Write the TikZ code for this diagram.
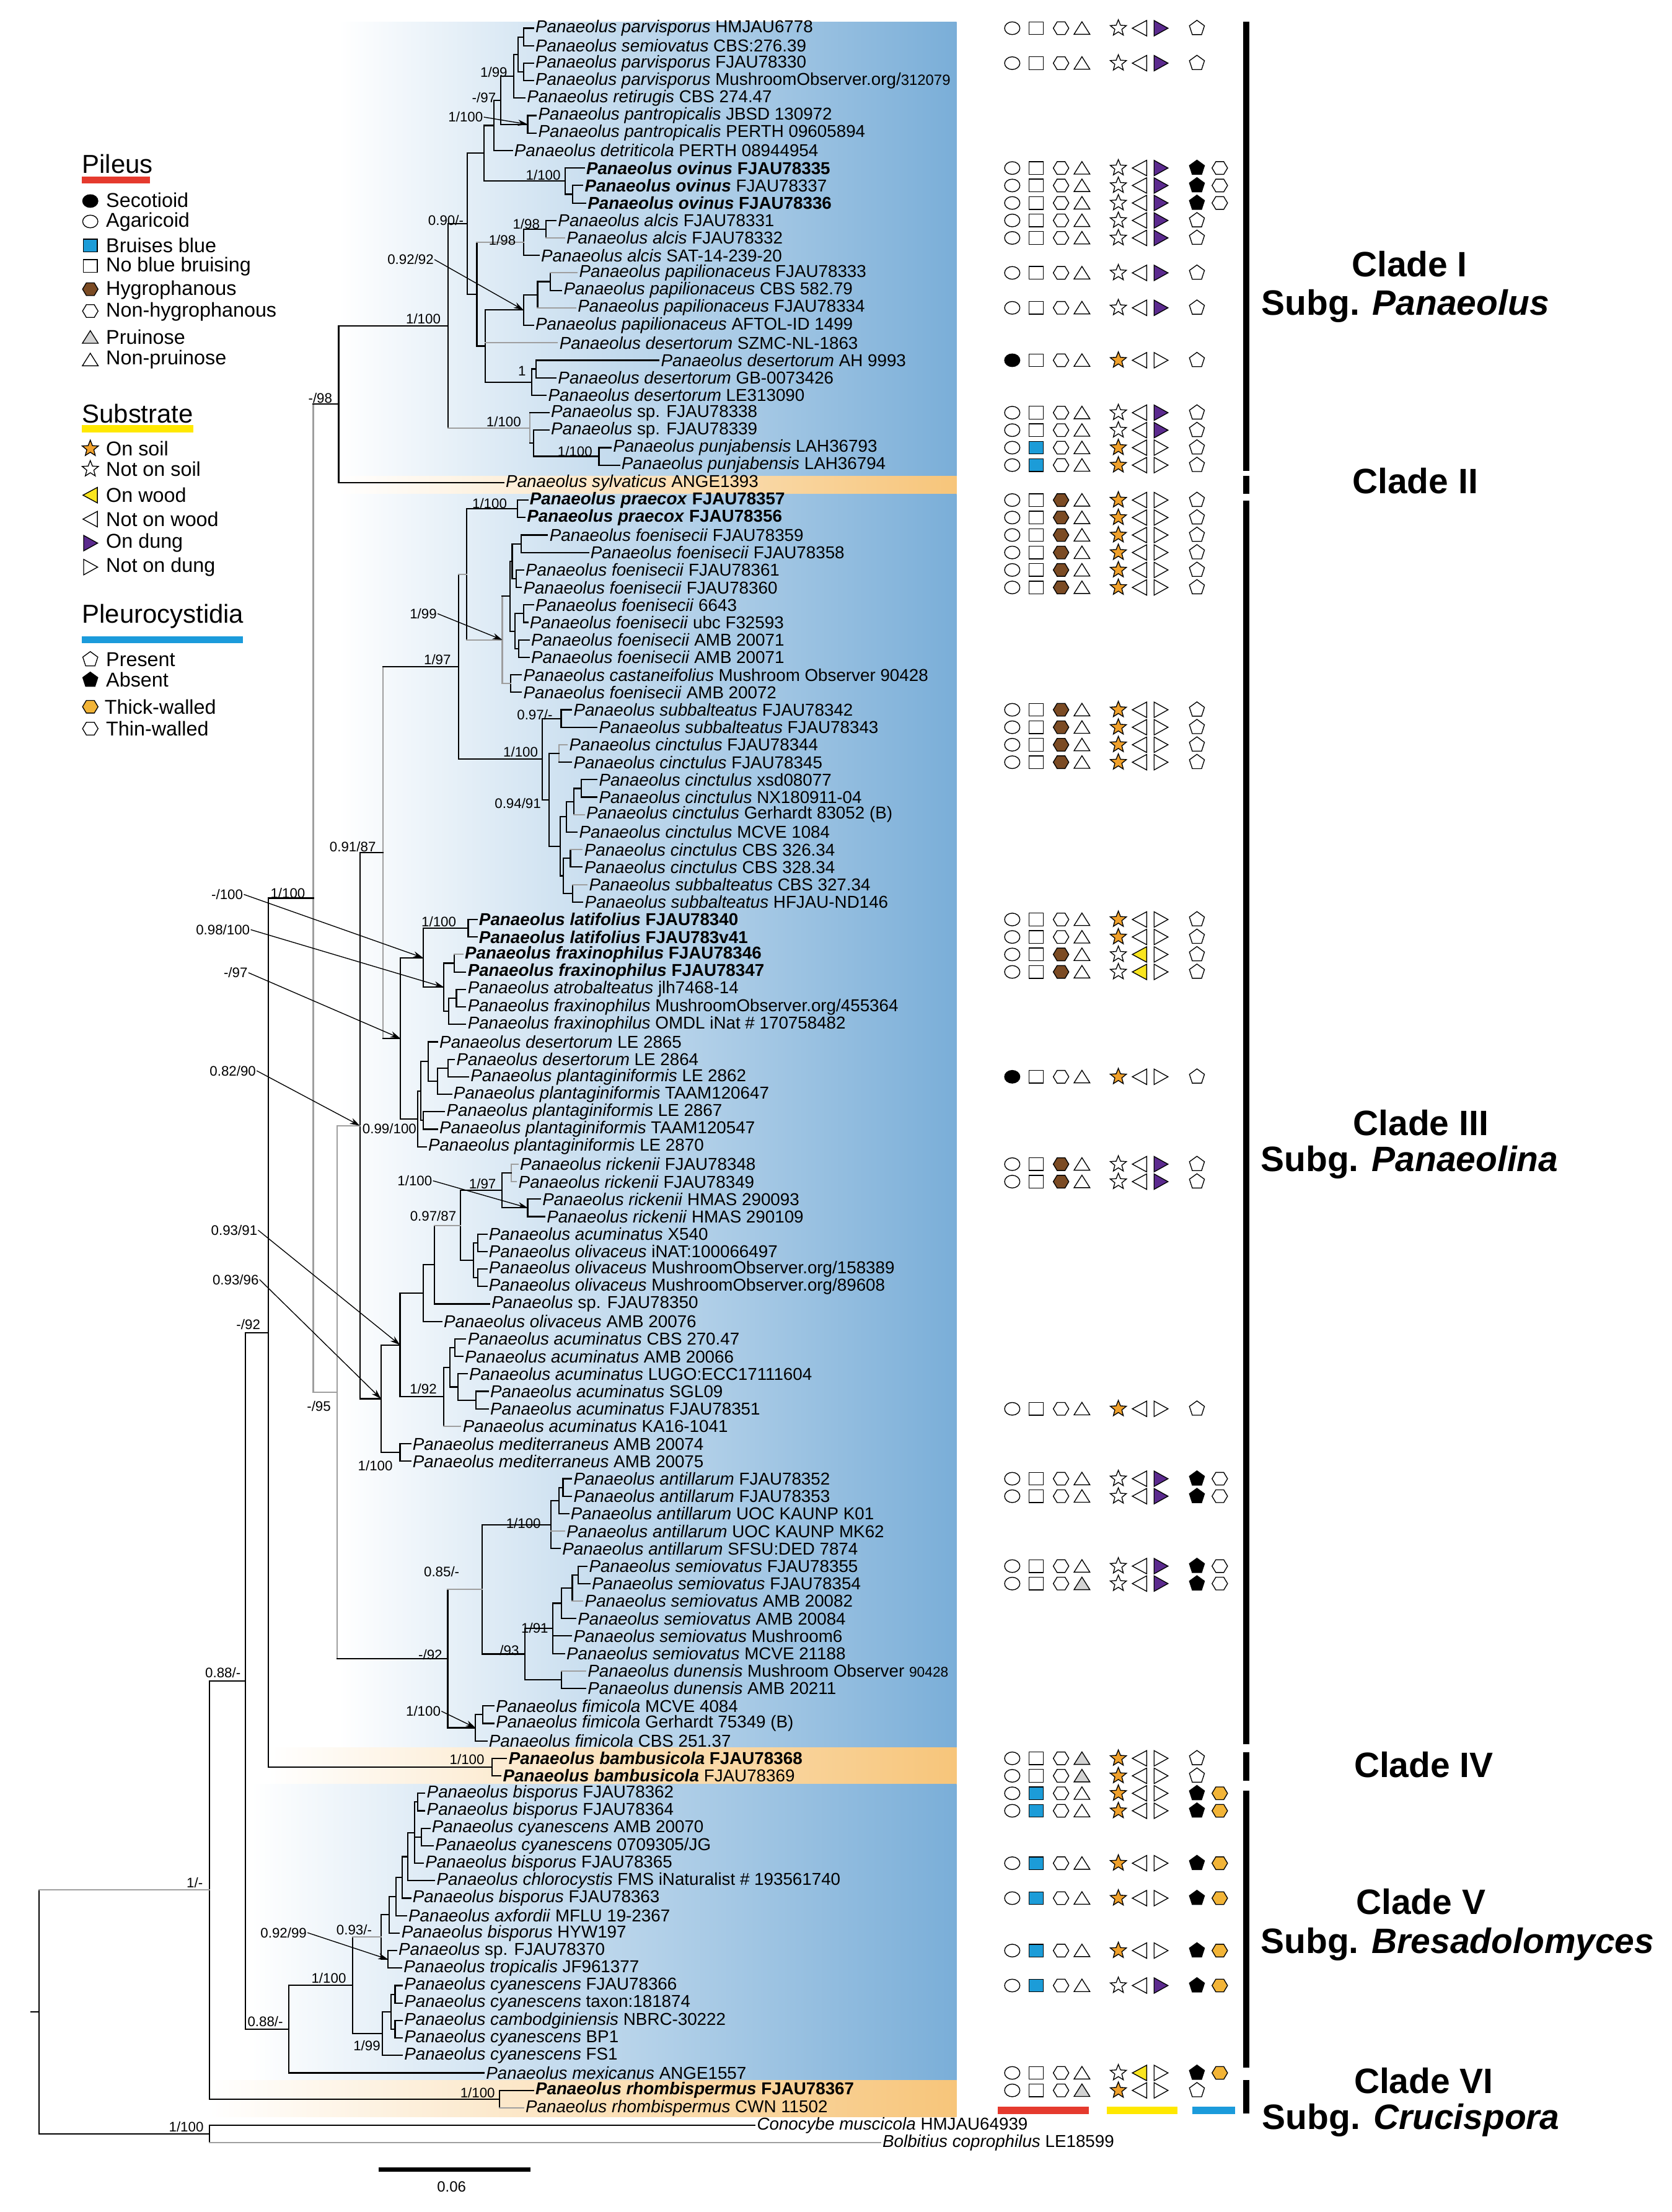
\documentclass[tikz,border=0pt]{standalone}
\usepackage{fontspec}
\setmainfont{Liberation Sans}
\usetikzlibrary{arrows.meta}
\definecolor{shblue}{RGB}{122,174,216}
\definecolor{shorange}{RGB}{247,197,122}
\definecolor{bruise}{RGB}{28,156,216}
\definecolor{hbrown}{RGB}{123,75,36}
\definecolor{pgray}{RGB}{211,211,211}
\definecolor{sorange}{RGB}{240,161,44}
\definecolor{wyellow}{RGB}{249,229,30}
\definecolor{dpurple}{RGB}{91,42,142}
\definecolor{thorange}{RGB}{242,180,55}
\definecolor{redbar}{RGB}{229,58,46}
\definecolor{yelbar}{RGB}{255,232,0}
\definecolor{bluebar}{RGB}{27,155,219}
\tikzset{
 br/.style={line width=0.95pt, line cap=rect},
 kk/.style={},
 gg/.style={draw=black!38},
 tl/.style={anchor=west, inner sep=1.3pt, font=\fontsize{12.2}{12}\selectfont},
 sl/.style={inner sep=0.4pt, font=\fontsize{9.8}{10}\selectfont},
 arr/.style={line width=0.6pt, -{Stealth[length=7pt,width=4.4pt]}},
 smb/.style={line width=0.6pt, draw=black},
 clade/.style={font=\fontsize{25}{26}\selectfont\bfseries, inner sep=0},
 lh/.style={anchor=west, font=\fontsize{18.4}{18}\selectfont, inner sep=0},
 li/.style={anchor=west, font=\fontsize{14.2}{14}\selectfont, inner sep=0},
}
\newcommand{\Pn}[1]{\textit{Panaeolus #1}}
\newcommand{\Pb}[1]{\textbf{\textit{Panaeolus #1}}}
\newcommand{\Tp}[4]{%
  \pgfmathsetmacro\tyy{20+12.388*(#2-1)}%
  \expandafter\xdef\csname ny@#1\endcsname{\tyy}%
  \node[tl] (#1) at (#3,\tyy) {#4};%
}
\newcommand{\Nd}[4][kk]{%
  \gdef\ymn{16000}\gdef\ymx{-16000}%
  \foreach \chn/\chs in {#4}{%
    \pgfmathsetmacro\yc{\csname ny@\chn\endcsname}%
    \pgfmathsetmacro\nda{min(\ymn,\yc)}\xdef\ymn{\nda}%
    \pgfmathsetmacro\ndb{max(\ymx,\yc)}\xdef\ymx{\ndb}%
  }%
  \pgfmathsetmacro\ymd{(\ymn+\ymx)/2}%
  \expandafter\xdef\csname ny@#2\endcsname{\ymd}%
  \draw[br,#1] (#3,\ymn) -- (#3,\ymx);%
  \foreach \chn/\chs in {#4}{%
    \pgfmathsetmacro\yc{\csname ny@\chn\endcsname}%
    \draw[br,\chs] (#3,\yc) -- (\chn);%
  }%
  \coordinate (#2) at (#3,\ymd);%
}
\newcommand{\SL}[4]{\node[sl] (#1) at (#2,#3) {#4};}
% symbols
\newcommand{\Ell}[3]{\filldraw[smb, fill=#3] (#1,#2) ellipse (5.4 and 4.5);}
\newcommand{\Sq}[3]{\filldraw[smb, fill=#3] ({#1-5},{#2-4.5}) rectangle ({#1+5},{#2+4.5});}
\newcommand{\Oct}[3]{\filldraw[smb, fill=#3] ({#1-5.5},#2) -- ({#1-2.8},{#2-4.5}) -- ({#1+2.8},{#2-4.5}) -- ({#1+5.5},#2) -- ({#1+2.8},{#2+4.5}) -- ({#1-2.8},{#2+4.5}) -- cycle;}
\newcommand{\Tri}[3]{\filldraw[smb, fill=#3] ({#1-5.6},{#2+4.3}) -- (#1,{#2-4.6}) -- ({#1+5.6},{#2+4.3}) -- cycle;}
\newcommand{\Star}[3]{\filldraw[smb, fill=#3] (#1,#2) +(-90:6) -- +(-54:2.6) -- +(-18:6) -- +(18:2.6) -- +(54:6) -- +(90:2.6) -- +(126:6) -- +(162:2.6) -- +(198:6) -- +(234:2.6) -- cycle;}
\newcommand{\Lw}[3]{\filldraw[smb, fill=#3] ({#1+5},{#2-5.5}) -- ({#1+5},{#2+5.5}) -- ({#1-5.2},#2) -- cycle;}
\newcommand{\Rd}[3]{\filldraw[smb, fill=#3] ({#1-4.7},{#2-5.5}) -- ({#1-4.7},{#2+5.5}) -- ({#1+5.2},#2) -- cycle;}
\newcommand{\Pent}[3]{\filldraw[smb, fill=#3] (#1,#2) +(-90:5.6) -- +(-18:5.6) -- +(54:5.6) -- +(126:5.6) -- +(198:5.6) -- cycle;}
\newcommand{\sym}[9]{%
 \pgfmathsetmacro\sy{20+12.388*(#1-1)}%
 \ifnum#2=1 \Ell{717.4}{\sy}{black}\else\Ell{717.4}{\sy}{white}\fi
 \ifnum#3=1 \Sq{734.4}{\sy}{bruise}\else\Sq{734.4}{\sy}{white}\fi
 \ifnum#4=1 \Oct{752}{\sy}{hbrown}\else\Oct{752}{\sy}{white}\fi
 \ifnum#5=1 \Tri{766.8}{\sy}{pgray}\else\Tri{766.8}{\sy}{white}\fi
 \ifnum#6=1 \Star{792.6}{\sy}{sorange}\else\Star{792.6}{\sy}{white}\fi
 \ifnum#7=1 \Lw{807.7}{\sy}{wyellow}\else\Lw{807.7}{\sy}{white}\fi
 \ifnum#8=1 \Rd{822.6}{\sy}{dpurple}\else\Rd{822.6}{\sy}{white}\fi
 \ifcase#9 \Pent{848.3}{\sy}{white}\or \Pent{848.3}{\sy}{black}\Oct{864.5}{\sy}{white}\or \Pent{848.3}{\sy}{black}\Oct{864.5}{\sy}{thorange}\fi
}
\begin{document}
\begin{tikzpicture}[x=1pt,y=-1pt]
\useasboundingbox (0,0) rectangle (1185,1568);
\fill[white] (0,0) rectangle (1185,1568);
% ---------- background bands
\shade[left color=white, right color=shblue] (240,15.5) rectangle (678,337.5);
\shade[left color=white, right color=shorange] (240,337.5) rectangle (678,350.3);
\shade[left color=white, right color=shblue] (240,350.3) rectangle (678,1239);
\shade[left color=white, right color=shorange] (190,1239) rectangle (678,1264.7);
\shade[left color=white, right color=shblue] (178,1264.7) rectangle (678,1474.6);
\shade[left color=white, right color=shorange] (148,1474.6) rectangle (678,1500.4);
% ---------- tips
\Tp{t1}{1}{378}{\Pn{parvisporus} HMJAU6778}
\Tp{t2}{2}{378}{\Pn{semiovatus} CBS:276.39}
\Tp{t3}{3}{378}{\Pn{parvisporus} FJAU78330}
\Tp{t4}{4}{378}{\Pn{parvisporus} MushroomObserver.org/{\fontsize{10.5}{10}\selectfont 312079}}
\Tp{t5}{5}{372}{\Pn{retirugis} CBS 274.47}
\Tp{t6}{6}{380}{\Pn{pantropicalis} JBSD 130972}
\Tp{t7}{7}{380}{\Pn{pantropicalis} PERTH 09605894}
\Tp{t8}{8}{363}{\Pn{detriticola} PERTH 08944954}
\Tp{t9}{9}{414}{\textbf{\Pn{ovinus} FJAU78335}}
\Tp{t10}{10}{413}{\Pb{ovinus} FJAU78337}
\Tp{t11}{11}{415}{\textbf{\Pn{ovinus} FJAU78336}}
\Tp{t12}{12}{394}{\Pn{alcis} FJAU78331}
\Tp{t13}{13}{400}{\Pn{alcis} FJAU78332}
\Tp{t14}{14}{382}{\Pn{alcis} SAT-14-239-20}
\Tp{t15}{15}{409}{\Pn{papilionaceus} FJAU78333}
\Tp{t16}{16}{398}{\Pn{papilionaceus} CBS 582.79}
\Tp{t17}{17}{408}{\Pn{papilionaceus} FJAU78334}
\Tp{t18}{18}{378}{\Pn{papilionaceus} AFTOL-ID 1499}
\Tp{t19}{19}{395}{\Pn{desertorum} SZMC-NL-1863}
\Tp{t20}{20}{467}{\Pn{desertorum} AH 9993}
\Tp{t21}{21}{394}{\Pn{desertorum} GB-0073426}
\Tp{t22}{22}{387}{\Pn{desertorum} LE313090}
\Tp{t23}{23}{389}{\textit{Panaeolus} sp. FJAU78338}
\Tp{t24}{24}{389}{\textit{Panaeolus} sp. FJAU78339}
\Tp{t25}{25}{433}{\Pn{punjabensis} LAH36793}
\Tp{t26}{26}{439}{\Pn{punjabensis} LAH36794}
\Tp{t27}{27}{357}{\Pn{sylvaticus} ANGE1393}
\Tp{t28}{28}{374}{\textbf{\Pn{praecox} FJAU78357}}
\Tp{t29}{29}{372}{\textbf{\Pn{praecox} FJAU78356}}
\Tp{t30}{30}{388}{\Pn{foenisecii} FJAU78359}
\Tp{t31}{31}{417}{\Pn{foenisecii} FJAU78358}
\Tp{t32}{32}{371}{\Pn{foenisecii} FJAU78361}
\Tp{t33}{33}{369.5}{\Pn{foenisecii} FJAU78360}
\Tp{t34}{34}{378}{\Pn{foenisecii} 6643}
\Tp{t35}{35}{374}{\Pn{foenisecii} ubc F32593}
\Tp{t36}{36}{375}{\Pn{foenisecii} AMB 20071}
\Tp{t37}{37}{375}{\Pn{foenisecii} AMB 20071}
\Tp{t38}{38}{369.5}{\Pn{castaneifolius} Mushroom Observer 90428}
\Tp{t39}{39}{369.5}{\Pn{foenisecii} AMB 20072}
\Tp{t40}{40}{405}{\Pn{subbalteatus} FJAU78342}
\Tp{t41}{41}{423}{\Pn{subbalteatus} FJAU78343}
\Tp{t42}{42}{402}{\Pn{cinctulus} FJAU78344}
\Tp{t43}{43}{405}{\Pn{cinctulus} FJAU78345}
\Tp{t44}{44}{423}{\Pn{cinctulus} xsd08077}
\Tp{t45}{45}{423}{\Pn{cinctulus} NX180911-04}
\Tp{t46}{46}{414}{\Pn{cinctulus} Gerhardt 83052 (B)}
\Tp{t47}{47}{409}{\Pn{cinctulus} MCVE 1084}
\Tp{t48}{48}{412.6}{\Pn{cinctulus} CBS 326.34}
\Tp{t49}{49}{412.6}{\Pn{cinctulus} CBS 328.34}
\Tp{t50}{50}{416}{\Pn{subbalteatus} CBS 327.34}
\Tp{t51}{51}{413}{\Pn{subbalteatus} HFJAU-ND146}
\Tp{t52}{52}{338}{\textbf{\Pn{latifolius} FJAU78340}}
\Tp{t53}{53}{338}{\textbf{\Pn{latifolius} FJAU783v41}}
\Tp{t54}{54}{328}{\textbf{\Pn{fraxinophilus} FJAU78346}}
\Tp{t55}{55}{330}{\textbf{\Pn{fraxinophilus} FJAU78347}}
\Tp{t56}{56}{330}{\Pn{atrobalteatus} jlh7468-14}
\Tp{t57}{57}{330}{\Pn{fraxinophilus} MushroomObserver.org/455364}
\Tp{t58}{58}{330}{\Pn{fraxinophilus} OMDL iNat \# 170758482}
\Tp{t59}{59}{310}{\Pn{desertorum} LE 2865}
\Tp{t60}{60}{322}{\Pn{desertorum} LE 2864}
\Tp{t61}{61}{332}{\Pn{plantaginiformis} LE 2862}
\Tp{t62}{62}{320}{\Pn{plantaginiformis} TAAM120647}
\Tp{t63}{63}{315}{\Pn{plantaginiformis} LE 2867}
\Tp{t64}{64}{310}{\Pn{plantaginiformis} TAAM120547}
\Tp{t65}{65}{302}{\Pn{plantaginiformis} LE 2870}
\Tp{t66}{66}{367}{\Pn{rickenii} FJAU78348}
\Tp{t67}{67}{366}{\Pn{rickenii} FJAU78349}
\Tp{t68}{68}{383}{\Pn{rickenii} HMAS 290093}
\Tp{t69}{69}{386}{\Pn{rickenii} HMAS 290109}
\Tp{t70}{70}{345}{\Pn{acuminatus} X540}
\Tp{t71}{71}{345}{\Pn{olivaceus} iNAT:100066497}
\Tp{t72}{72}{345}{\Pn{olivaceus} MushroomObserver.org/158389}
\Tp{t73}{73}{345}{\Pn{olivaceus} MushroomObserver.org/89608}
\Tp{t74}{74}{347}{\textit{Panaeolus} sp. FJAU78350}
\Tp{t75}{75}{313}{\Pn{olivaceus} AMB 20076}
\Tp{t76}{76}{330}{\Pn{acuminatus} CBS 270.47}
\Tp{t77}{77}{328}{\Pn{acuminatus} AMB 20066}
\Tp{t78}{78}{331}{\Pn{acuminatus} LUGO:ECC17111604}
\Tp{t79}{79}{346}{\Pn{acuminatus} SGL09}
\Tp{t80}{80}{346}{\Pn{acuminatus} FJAU78351}
\Tp{t81}{81}{326.5}{\Pn{acuminatus} KA16-1041}
\Tp{t82}{82}{291}{\Pn{mediterraneus} AMB 20074}
\Tp{t83}{83}{291}{\Pn{mediterraneus} AMB 20075}
\Tp{t84}{84}{405}{\Pn{antillarum} FJAU78352}
\Tp{t85}{85}{405}{\Pn{antillarum} FJAU78353}
\Tp{t86}{86}{403}{\Pn{antillarum} UOC KAUNP K01}
\Tp{t87}{87}{400}{\Pn{antillarum} UOC KAUNP MK62}
\Tp{t88}{88}{397}{\Pn{antillarum} SFSU:DED 7874}
\Tp{t89}{89}{416}{\Pn{semiovatus} FJAU78355}
\Tp{t90}{90}{418}{\Pn{semiovatus} FJAU78354}
\Tp{t91}{91}{413}{\Pn{semiovatus} AMB 20082}
\Tp{t92}{92}{408}{\Pn{semiovatus} AMB 20084}
\Tp{t93}{93}{405}{\Pn{semiovatus} Mushroom6}
\Tp{t94}{94}{400}{\Pn{semiovatus} MCVE 21188}
\Tp{t95}{95}{415}{\Pn{dunensis} Mushroom Observer {\fontsize{10}{10}\selectfont 90428}}
\Tp{t96}{96}{415}{\Pn{dunensis} AMB 20211}
\Tp{t97}{97}{350}{\Pn{fimicola} MCVE 4084}
\Tp{t98}{98}{350}{\Pn{fimicola} Gerhardt 75349 (B)}
\Tp{t99}{99}{345}{\Pn{fimicola} CBS 251.37}
\Tp{t100}{100}{359}{\textbf{\Pn{bambusicola} FJAU78368}}
\Tp{t101}{101}{355}{\Pb{bambusicola} FJAU78369}
\Tp{t102}{102}{301}{\Pn{bisporus} FJAU78362}
\Tp{t103}{103}{301}{\Pn{bisporus} FJAU78364}
\Tp{t104}{104}{304.6}{\Pn{cyanescens} AMB 20070}
\Tp{t105}{105}{307}{\Pn{cyanescens} 0709305/JG}
\Tp{t106}{106}{300}{\Pn{bisporus} FJAU78365}
\Tp{t107}{107}{308}{\Pn{chlorocystis} FMS iNaturalist \# 193561740}
\Tp{t108}{108}{291}{\Pn{bisporus} FJAU78363}
\Tp{t109}{109}{288}{\Pn{axfordii} MFLU 19-2367}
\Tp{t110}{110}{283}{\Pn{bisporus} HYW197}
\Tp{t111}{111}{281}{\textit{Panaeolus} sp. FJAU78370}
\Tp{t112}{112}{284.6}{\Pn{tropicalis} JF961377}
\Tp{t113}{113}{285}{\Pn{cyanescens} FJAU78366}
\Tp{t114}{114}{285}{\Pn{cyanescens} taxon:181874}
\Tp{t115}{115}{285}{\Pn{cambodginiensis} NBRC-30222}
\Tp{t116}{116}{285}{\Pn{cyanescens} BP1}
\Tp{t117}{117}{285}{\Pn{cyanescens} FS1}
\Tp{t118}{118}{343}{\Pn{mexicanus} ANGE1557}
\Tp{t119}{119}{378}{\textbf{\Pn{rhombispermus} FJAU78367}}
\Tp{t120}{120}{371}{\Pn{rhombispermus} CWN 11502}
\Tp{t121}{121}{535}{\textit{Conocybe muscicola} HMJAU64939}
\Tp{t122}{122}{624}{\textit{Bolbitius coprophilus} LE18599}
% ---------- Clade I
\Nd{nP12}{371}{t1/kk,t2/kk}
\Nd{nP34}{371}{t3/kk,t4/kk}
\Nd{nC1}{367}{nP12/kk,nP34/kk}
\Nd{nC}{364}{nC1/kk,t5/kk}
\Nd{nE}{374}{t6/kk,t7/kk}
\Nd{nD}{355}{nC/kk,nE/kk}
\Nd{nF}{350}{nD/kk,t8/kk}
\Nd{nH1}{406}{t10/kk,t11/kk}
\Nd{nH}{400.5}{t9/kk,nH1/kk}
\Nd{nG}{343}{nF/kk,nH/kk}
\Nd{nA1}{387}{t12/kk,t13/gg}
\Nd{nA}{371}{nA1/kk,t14/kk}
\Nd{nQ1}{390}{t15/gg,t16/kk}
\Nd{nQ}{381}{nQ1/kk,t17/gg}
\Nd{nO}{371}{nQ/kk,t18/kk}
\Nd{nP1}{380}{t20/kk,t21/kk}
\Nd{nP}{377}{nP1/kk,t22/kk}
\Nd{nN}{344}{nO/kk,t19/gg,nP/kk}
\Nd{nM}{338}{nA/gg,nN/kk}
\Nd{nI}{331}{nG/kk,nM/kk}
\Nd{nS2}{424.5}{t25/kk,t26/kk}
\Nd{nS1}{378}{t24/kk,nS2/kk}
\Nd[gg]{nS}{375.5}{t23/kk,nS1/kk}
\Nd{nK}{317.6}{nI/kk,nS/gg}
\Nd{nL}{240}{nK/kk,t27/kk}
% ---------- Clade III
\Nd{nPR}{366.6}{t28/kk,t29/kk}
\Nd{nFO1}{369.5}{t30/kk,t31/kk}
\Nd{nFO2}{366}{t32/kk,t33/kk}
\Nd{nFO3}{363}{nFO1/kk,nFO2/kk}
\Nd{nFO4}{371}{t34/kk,t35/kk}
\Nd{nFO5}{367.5}{t36/kk,t37/kk}
\Nd{nFO6}{365}{nFO4/kk,nFO5/kk}
\Nd{nFOA}{361.5}{nFO3/kk,nFO6/kk}
\Nd{nFOB}{362}{t38/kk,t39/kk}
\Nd[gg]{nFO}{356}{nFOA/kk,nFOB/gg}
\Nd{nPX}{330.7}{nPR/kk,nFO/gg}
\Nd{nSB}{397.7}{t40/kk,t41/kk}
\Nd[gg]{nCI3}{396.3}{t42/gg,t43/kk}
\Nd{nC44}{412}{t44/kk,t45/kk}
\Nd{nC46}{406.7}{nC44/kk,t46/gg}
\Nd{nC47}{401.4}{nC46/kk,t47/kk}
\Nd{nC48}{404.3}{t48/gg,t49/kk}
\Nd{nC50}{406}{t50/gg,t51/kk}
\Nd{nC4850}{399.3}{nC48/kk,nC50/kk}
\Nd{nCI4}{397}{nC47/kk,nC4850/kk}
\Nd{nCI2}{389}{nCI3/kk,nCI4/kk}
\Nd{nCI}{384.4}{nSB/kk,nCI2/kk}
\Nd{nF97}{325}{nPX/gg,nCI/kk}
\Nd{nLA}{331.8}{t52/kk,t53/kk}
\Nd{nFR1}{322}{t54/gg,t55/kk}
\Nd{nFR2}{323.5}{t56/kk,t57/kk}
\Nd{nFR3}{318}{nFR2/kk,t58/kk}
\Nd{nFR}{314.6}{nFR1/kk,nFR3/kk}
\Nd{nM100}{299.8}{nLA/kk,nFR/kk}
\Nd{nD1}{317.6}{t60/kk,t61/kk}
\Nd{nD2}{310}{nD1/kk,t62/kk}
\Nd{nD3}{303.6}{t59/kk,nD2/kk}
\Nd{nD4}{300}{t63/kk,t64/kk}
\Nd{nD5}{298.3}{nD3/kk,nD4/kk}
\Nd{nDP}{296.2}{nD5/kk,t65/kk}
\Nd{nM97}{283.6}{nM100/kk,nDP/kk}
\Nd[gg]{nN091}{271.5}{nF97/kk,nM97/kk}
\Nd[gg]{nRK1}{362.5}{t66/gg,t67/gg}
\Nd{nRK2}{374}{t68/kk,t69/kk}
\Nd{nRK}{355.6}{nRK1/kk,nRK2/kk}
\Nd{nOL1}{338.7}{t70/kk,t71/kk}
\Nd{nOL2}{338.7}{t72/kk,t73/kk}
\Nd{nOL}{335.4}{nOL1/kk,nOL2/kk}
\Nd{nOL0}{326.5}{nRK/kk,nOL/kk}
\Nd{nOX}{308}{nOL0/gg,t74/kk}
\Nd{nOLX}{299.8}{nOX/kk,t75/kk}
\Nd{nAC2}{322.5}{t76/kk,t77/kk}
\Nd{nAC4}{337.4}{t79/kk,t80/kk}
\Nd{nAC3}{324.5}{t78/kk,nAC4/kk}
\Nd{nAC1}{319}{nAC2/kk,nAC3/kk}
\Nd{nAC}{314.5}{nAC1/kk,t81/gg}
\Nd{nN0931}{283.5}{nOLX/kk,nAC/kk}
\Nd{nME}{283.5}{t82/kk,t83/kk}
\Nd{nN093}{270}{nN0931/kk,nME/kk}
\Nd{nN082}{255}{nN091/kk,nN093/kk}
\Nd{nAN1}{399}{t84/kk,t85/kk}
\Nd{nAN2}{396}{nAN1/kk,t86/kk}
\Nd{nAN}{390.3}{nAN2/kk,t87/gg,t88/kk}
\Nd{nSV3}{409.6}{t89/kk,t90/kk}
\Nd{nSV2}{405.6}{nSV3/kk,t91/gg}
\Nd{nSV1}{397.8}{nSV2/kk,t92/kk}
\Nd{nSV}{391.6}{nSV1/kk,t93/kk,t94/kk}
\Nd{nDU}{398}{t95/gg,t96/kk}
\Nd{nSD}{372}{nSV/kk,nDU/kk}
\Nd{nN085}{341.7}{nAN/kk,nSD/kk}
\Nd{nFI1}{342}{t97/kk,t98/kk}
\Nd{nFI}{337}{nFI1/kk,t99/kk}
\Nd{nN92c}{317.3}{nN085/gg,nFI/kk}
\Nd[gg]{nIII0}{239}{nN082/gg,nN92c/kk}
\Nd[gg]{nN1100}{222}{nL/kk,nIII0/gg}
\Nd{nBA}{348.6}{t100/kk,t101/kk}
\Nd{nN92}{190}{nN1100/kk,nBA/kk}
% ---------- Clade V, VI, outgroup
\Nd{nB1}{296}{t102/kk,t103/kk}
\Nd{nB2}{298.5}{t104/kk,t105/kk}
\Nd{nB3}{294}{nB1/kk,nB2/kk,t106/kk}
\Nd{nB4}{289}{nB3/kk,t107/kk}
\Nd{nB5}{285}{nB4/kk,t108/kk}
\Nd{nB6}{280.8}{nB5/kk,t109/kk}
\Nd{nB7}{275.8}{nB6/kk,t110/kk}
\Nd{nB8}{275}{t111/kk,t112/kk}
\Nd{nV2}{270}{nB7/kk,nB8/kk}
\Nd{nC1v}{280}{t113/kk,t114/kk}
\Nd{nC2v}{280}{t115/kk,t116/kk}
\Nd{nC12}{277}{nC1v/kk,nC2v/kk}
\Nd{nCY}{271}{nC12/kk,t117/kk}
\Nd{nV1}{250}{nV2/gg,nCY/kk}
\Nd{nV0}{204.6}{nV1/kk,t118/kk}
\Nd{nN088}{174}{nN92/kk,nV0/kk}
\Nd{nRH}{354}{t119/kk,t120/gg}
\Nd{nING}{148.6}{nN088/kk,nRH/kk}
\Nd{nOG}{148.6}{t121/kk,t122/gg}
\Nd{nROOT}{27.5}{nING/gg,nOG/kk}
\draw[br] (nROOT) -- ++(-5.5,0);
% ---------- support values
\SL{s1}{350}{51}{1/99}
\SL{s2}{343}{69}{-/97}
\SL{s3}{330}{83}{1/100}
\SL{s4}{385}{124}{1/100}
\SL{s5}{316}{156}{0.90/-}
\SL{s6}{373}{159}{1/98}
\SL{s7}{356}{170}{1/98}
\SL{s8}{291}{184}{0.92/92}
\SL{s9}{300}{226}{1/100}
\SL{s10}{370}{263}{1}
\SL{s11}{227}{282}{-/98}
\SL{s12}{357}{299}{1/100}
\SL{s13}{407.5}{320}{1/100}
\SL{s14}{347}{357}{1/100}
\SL{s15}{300}{435}{1/99}
\SL{s16}{310}{467.5}{1/97}
\SL{s17}{379}{506.5}{0.97/-}
\SL{s18}{369}{533}{1/100}
\SL{s19}{367}{569.5}{0.94/91}
\SL{s20}{250}{600}{0.91/87}
\SL{s21}{204}{633}{1/100}
\SL{s22}{161}{634}{-/100}
\SL{s23}{311}{653.5}{1/100}
\SL{s24}{158}{659}{0.98/100}
\SL{s25}{167}{689.5}{-/97}
\SL{s26}{165}{759}{0.82/90}
\SL{s27}{276}{800}{0.99/100}
\SL{s28}{294}{837}{1/100}
\SL{s29}{342}{839}{1/97}
\SL{s30}{307}{862}{0.97/87}
\SL{s31}{166}{872}{0.93/91}
\SL{s32}{167}{907}{0.93/96}
\SL{s33}{176}{939}{-/92}
\SL{s34}{300}{984.5}{1/92}
\SL{s35}{226}{997}{-/95}
\SL{s36}{266}{1039}{1/100}
\SL{s37}{371}{1080}{1/100}
\SL{s38}{313}{1114}{0.85/-}
\SL{s39}{379}{1154}{1/91}
\SL{s40}{361}{1170}{/93}
\SL{s41}{305}{1173}{-/92}
\SL{s42}{300}{1213}{1/100}
\SL{s43}{331}{1247}{1/100}
\SL{s44}{158}{1185.5}{0.88/-}
\SL{s45}{138}{1334.5}{1/-}
\SL{s46}{251}{1368}{0.93/-}
\SL{s47}{201}{1370}{0.92/99}
\SL{s48}{233}{1402}{1/100}
\SL{s49}{188}{1433}{0.88/-}
\SL{s50}{260}{1450}{1/99}
\SL{s51}{338.5}{1483.5}{1/100}
\SL{s52}{132}{1507.5}{1/100}
% arrows
\draw[arr] (s3.east) -- (nE);
\draw[arr] (s8.east) -- (nO);
\draw[arr] (s15.east) -- (nFO);
\draw[arr] (s22.east) -- (nM100);
\draw[arr] (s24.east) -- (nFR);
\draw[arr] (s25.east) -- (nM97);
\draw[arr] (s26.east) -- (nN082);
\draw[arr] (s28.east) -- (nRK2);
\draw[arr] (s31.east) -- (nN0931);
\draw[arr] (s32.east) -- (nN093);
\draw[arr] (s42.east) -- (nFI);
\draw[arr] (s47.east) -- (nB8);
% ---------- scale bar
\draw[line width=2.9pt] (268.5,1538) -- (376,1538);
\node[sl, font=\fontsize{10.5}{10}\selectfont] (scale) at (320,1550) {0.06};
% ---------- trait symbols
\sym{1}{0}{0}{0}{0}{0}{0}{1}{0}
\sym{3}{0}{0}{0}{0}{0}{0}{1}{0}
\sym{9}{0}{0}{0}{0}{0}{0}{1}{1}
\sym{10}{0}{0}{0}{0}{0}{0}{1}{1}
\sym{11}{0}{0}{0}{0}{0}{0}{1}{1}
\sym{12}{0}{0}{0}{0}{0}{0}{1}{0}
\sym{13}{0}{0}{0}{0}{0}{0}{1}{0}
\sym{15}{0}{0}{0}{0}{0}{0}{1}{0}
\sym{17}{0}{0}{0}{0}{0}{0}{1}{0}
\sym{20}{1}{0}{0}{0}{1}{0}{0}{0}
\sym{23}{0}{0}{0}{0}{0}{0}{1}{0}
\sym{24}{0}{0}{0}{0}{0}{0}{1}{0}
\sym{25}{0}{1}{0}{0}{1}{0}{0}{0}
\sym{26}{0}{1}{0}{0}{1}{0}{0}{0}
\sym{28}{0}{0}{1}{0}{1}{0}{0}{0}
\sym{29}{0}{0}{1}{0}{1}{0}{0}{0}
\sym{30}{0}{0}{1}{0}{1}{0}{0}{0}
\sym{31}{0}{0}{1}{0}{1}{0}{0}{0}
\sym{32}{0}{0}{1}{0}{1}{0}{0}{0}
\sym{33}{0}{0}{1}{0}{1}{0}{0}{0}
\sym{40}{0}{0}{1}{0}{1}{0}{0}{0}
\sym{41}{0}{0}{1}{0}{1}{0}{0}{0}
\sym{42}{0}{0}{1}{0}{1}{0}{0}{0}
\sym{43}{0}{0}{1}{0}{1}{0}{0}{0}
\sym{52}{0}{0}{0}{0}{1}{0}{0}{0}
\sym{53}{0}{0}{0}{0}{1}{0}{0}{0}
\sym{54}{0}{0}{1}{0}{0}{1}{0}{0}
\sym{55}{0}{0}{1}{0}{0}{1}{0}{0}
\sym{61}{1}{0}{0}{0}{1}{0}{0}{0}
\sym{66}{0}{0}{1}{0}{0}{0}{1}{0}
\sym{67}{0}{0}{1}{0}{0}{0}{1}{0}
\sym{80}{0}{0}{0}{0}{1}{0}{0}{0}
\sym{84}{0}{0}{0}{0}{0}{0}{1}{1}
\sym{85}{0}{0}{0}{0}{0}{0}{1}{1}
\sym{89}{0}{0}{0}{0}{0}{0}{1}{1}
\sym{90}{0}{0}{0}{1}{0}{0}{1}{1}
\sym{100}{0}{0}{0}{1}{1}{0}{0}{0}
\sym{101}{0}{0}{0}{1}{1}{0}{0}{0}
\sym{102}{0}{1}{0}{0}{1}{0}{0}{2}
\sym{103}{0}{1}{0}{0}{1}{0}{0}{2}
\sym{106}{0}{1}{0}{0}{1}{0}{0}{2}
\sym{108}{0}{1}{0}{0}{1}{0}{0}{2}
\sym{111}{0}{1}{0}{0}{1}{0}{0}{2}
\sym{113}{0}{1}{0}{0}{0}{0}{1}{2}
\sym{118}{0}{0}{0}{0}{0}{1}{0}{2}
\sym{119}{0}{0}{0}{1}{1}{0}{0}{0}
% ---------- bottom colour bars and clade bars
\fill[redbar] (707,1493.5) rectangle (771.5,1498.5);
\fill[yelbar] (784.5,1493.5) rectangle (834.5,1498.5);
\fill[bluebar] (845,1493.5) rectangle (875.5,1498.5);
\fill[black] (881,15.5) rectangle (885.6,334);
\fill[black] (881,337.5) rectangle (885.6,350);
\fill[black] (881,355) rectangle (885.6,1236.5);
\fill[black] (881,1242) rectangle (885.6,1262.5);
\fill[black] (881,1269.5) rectangle (885.6,1465.5);
\fill[black] (881,1474.5) rectangle (885.6,1498);
% ---------- clade labels
\node[clade] (cl1) at (999,187) {Clade I};
\node[clade] (cl1s) at (996,217) {Subg. \textit{Panaeolus}};
\node[clade] (cl2) at (1003,341) {Clade II};
\node[clade] (cl3) at (1007,796) {Clade III};
\node[clade] (cl3s) at (999,824) {Subg. \textit{Panaeolina}};
\node[clade] (cl4) at (1009,1251) {Clade IV};
\node[clade] (cl5) at (1007,1348) {Clade V};
\node[clade] (cl5s) at (1033,1378) {Subg. \textit{Bresadolomyces}};
\node[clade] (cl6) at (1009,1475) {Clade VI};
\node[clade] (cl6s) at (1000,1503) {Subg. \textit{Crucispora}};
% ---------- legend
\node[lh] (lgA) at (58,116) {Pileus};
\fill[redbar] (58,125) rectangle (106.5,130);
\Ell{64}{142.5}{black} \node[li] (lg1) at (75,142) {Secotioid};
\Ell{64}{157}{white} \node[li] (lg2) at (75,157.5) {Agaricoid};
\Sq{64}{174}{bruise} \node[li] (lg3) at (75,174) {Bruises blue};
\Sq{64}{188.5}{white} \node[li] (lg4) at (75,189) {No blue bruising};
\Oct{64}{205}{hbrown} \node[li] (lg5) at (75,205.5) {Hygrophanous};
\Oct{64}{220.5}{white} \node[li] (lg6) at (75,221) {Non-hygrophanous};
\Tri{64}{239}{pgray} \node[li] (lg7) at (75,239) {Pruinose};
\Tri{64}{255}{white} \node[li] (lg8) at (75,255) {Non-pruinose};
\node[lh] (lgB) at (58,293) {Substrate};
\fill[yelbar] (58,301.5) rectangle (137,306.5);
\Star{64}{318}{sorange} \node[li] (lg9) at (75,318) {On soil};
\Star{64}{332.5}{white} \node[li] (lg10) at (75,332.5) {Not on soil};
\Lw{64}{351}{wyellow} \node[li] (lg11) at (75,351) {On wood};
\Lw{64}{368}{white} \node[li] (lg12) at (75,368) {Not on wood};
\Rd{64}{385}{dpurple} \node[li] (lg13) at (75,385) {On dung};
\Rd{64}{402}{white} \node[li] (lg14) at (75,402) {Not on dung};
\node[lh] (lgC) at (58,437) {Pleurocystidia};
\fill[bluebar] (58,451) rectangle (172,456);
\Pent{64}{467.5}{white} \node[li] (lg15) at (75,467.5) {Present};
\Pent{64}{482}{black} \node[li] (lg16) at (75,482) {Absent};
\Oct{64}{501}{thorange} \node[li] (lg17) at (74,501) {Thick-walled};
\Oct{64}{516.5}{white} \node[li] (lg18) at (75,516.5) {Thin-walled};
\end{tikzpicture}
\end{document}
